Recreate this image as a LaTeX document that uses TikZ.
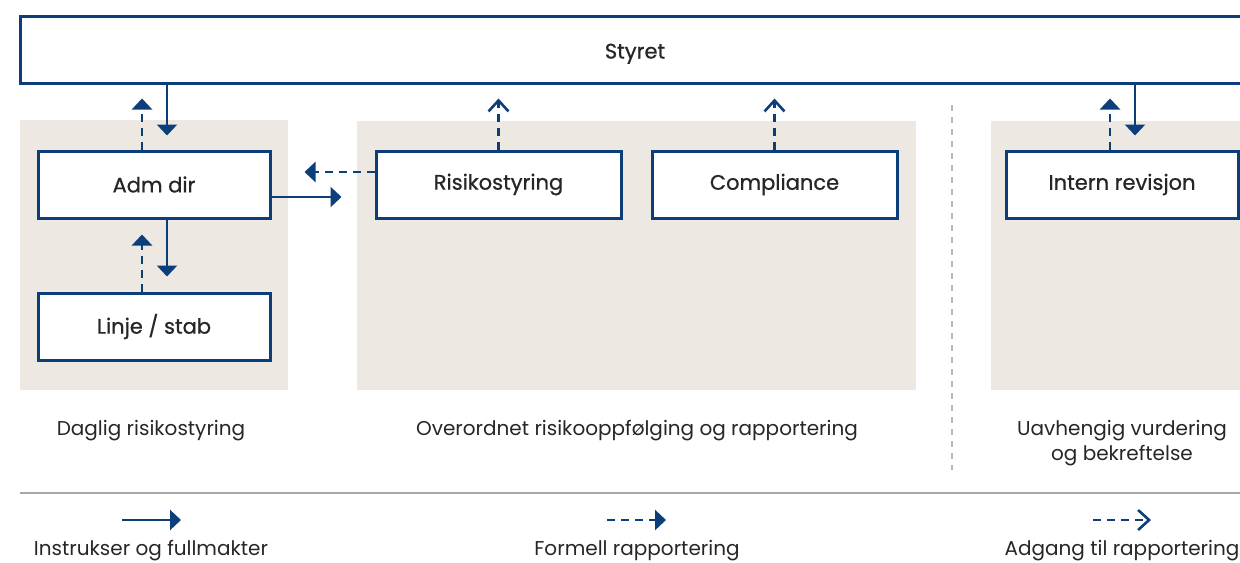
\documentclass[tikz,border=0pt]{standalone}
\usepackage{fontspec}
\setmainfont{Poppins}
\newfontfamily\boxfont{Poppins}[FakeBold=0.7]
\usetikzlibrary{arrows.meta}
\definecolor{navy}{RGB}{12,62,122}
\definecolor{panel}{RGB}{237,232,226}
\definecolor{txt}{RGB}{38,38,38}
\definecolor{rule}{RGB}{170,168,165}
\definecolor{dots}{RGB}{185,185,185}
\tikzset{
  box/.style={draw=navy, line width=1.5pt, fill=white, minimum width=116pt, minimum height=33.5pt, inner sep=0pt, font=\boxfont\fontsize{10.5}{12}\selectfont, text=txt},
  lbl/.style={font=\fontsize{10}{12.5}\selectfont, text=txt, align=center, inner sep=0pt},
  instr/.style={draw=navy, line width=1.3pt, -{Triangle[width=10pt,length=5.5pt]}},
  formell/.style={draw=navy, line width=1.3pt, dash pattern=on 4pt off 3pt, -{Triangle[width=10pt,length=5.5pt]}},
  adgang/.style={draw=navy, line width=1.3pt, dash pattern=on 4pt off 3pt, -{Straight Barb[width=10pt,length=5.5pt,line width=1.3pt]}},
}
\begin{document}
\begin{tikzpicture}[x=0.5pt,y=-0.5pt]
\path[use as bounding box, clip] (0,0) rectangle (1240,562);
% panels
\fill[panel] (20,120) rectangle (288,390);
\fill[panel] (357,121) rectangle (916,390);
\fill[panel] (991,121) rectangle (1260,390);
% boxes
\node[box, minimum width=615pt, text height=9pt, text depth=0pt] (styret) at (635,49.5) {Styret};
\node[box] (adm) at (154,184.5) {Adm dir};
\node[box] (linje) at (154,326.5) {Linje / stab};
\node[box, minimum width=122.5pt] (risk) at (498.5,184.5) {Risikostyring};
\node[box, minimum width=122.5pt] (comp) at (774.5,184.5) {Compliance};
\node[box] (intern) at (1122,184.5) {Intern revisjon};
% connectors
\draw[instr, shorten >=7pt] (styret.south -| 167,0) -- (adm.north -| 167,0);
\draw[formell, shorten >=7pt] (adm.north -| 142,0) -- (styret.south -| 142,0);
\draw[instr, shorten >=7.5pt] (adm.south -| 167,0) -- (linje.north -| 167,0);
\draw[formell, shorten >=7.5pt] (linje.north -| 142,0) -- (adm.south -| 142,0);
\draw[instr, shorten >=16.5pt] (adm.east |- 0,197) -- (risk.west |- 0,197);
\draw[formell, shorten >=16.5pt] (risk.west |- 0,172) -- (adm.east |- 0,172);
\draw[adgang, shorten >=7pt] (risk.north) -- (styret.south -| risk.north);
\draw[adgang, shorten >=7pt] (comp.north) -- (styret.south -| comp.north);
\draw[formell, shorten >=7pt] (intern.north -| 1110,0) -- (styret.south -| 1110,0);
\draw[instr, shorten >=7pt] (styret.south -| 1135,0) -- (intern.north -| 1135,0);
% separators
\draw[dots, line width=0.8pt, dash pattern=on 3pt off 3pt] (952,105) -- (952,470);
\draw[rule, line width=1pt] (20,493) -- (1260,493);
% group labels
\node[lbl] (l1) at (151,431) {Daglig risikostyring};
\node[lbl] (l2) at (637,431) {Overordnet risikooppfølging og rapportering};
\node[lbl] (l3) at (1122,443) {Uavhengig vurdering\\og bekreftelse};
% legend
\coordinate (a1) at (122,520); \coordinate (b1) at (181,520);
\coordinate (a2) at (607,520); \coordinate (b2) at (666,520);
\coordinate (a3) at (1093,520); \coordinate (b3) at (1151,520);
\draw[instr] (a1) -- (b1);
\draw[formell] (a2) -- (b2);
\draw[adgang] (a3) -- (b3);
\node[lbl] (g1) at (151,551) {Instrukser og fullmakter};
\node[lbl] (g2) at (637,551) {Formell rapportering};
\node[lbl] (g3) at (1122,551) {Adgang til rapportering};
\end{tikzpicture}
\end{document}
